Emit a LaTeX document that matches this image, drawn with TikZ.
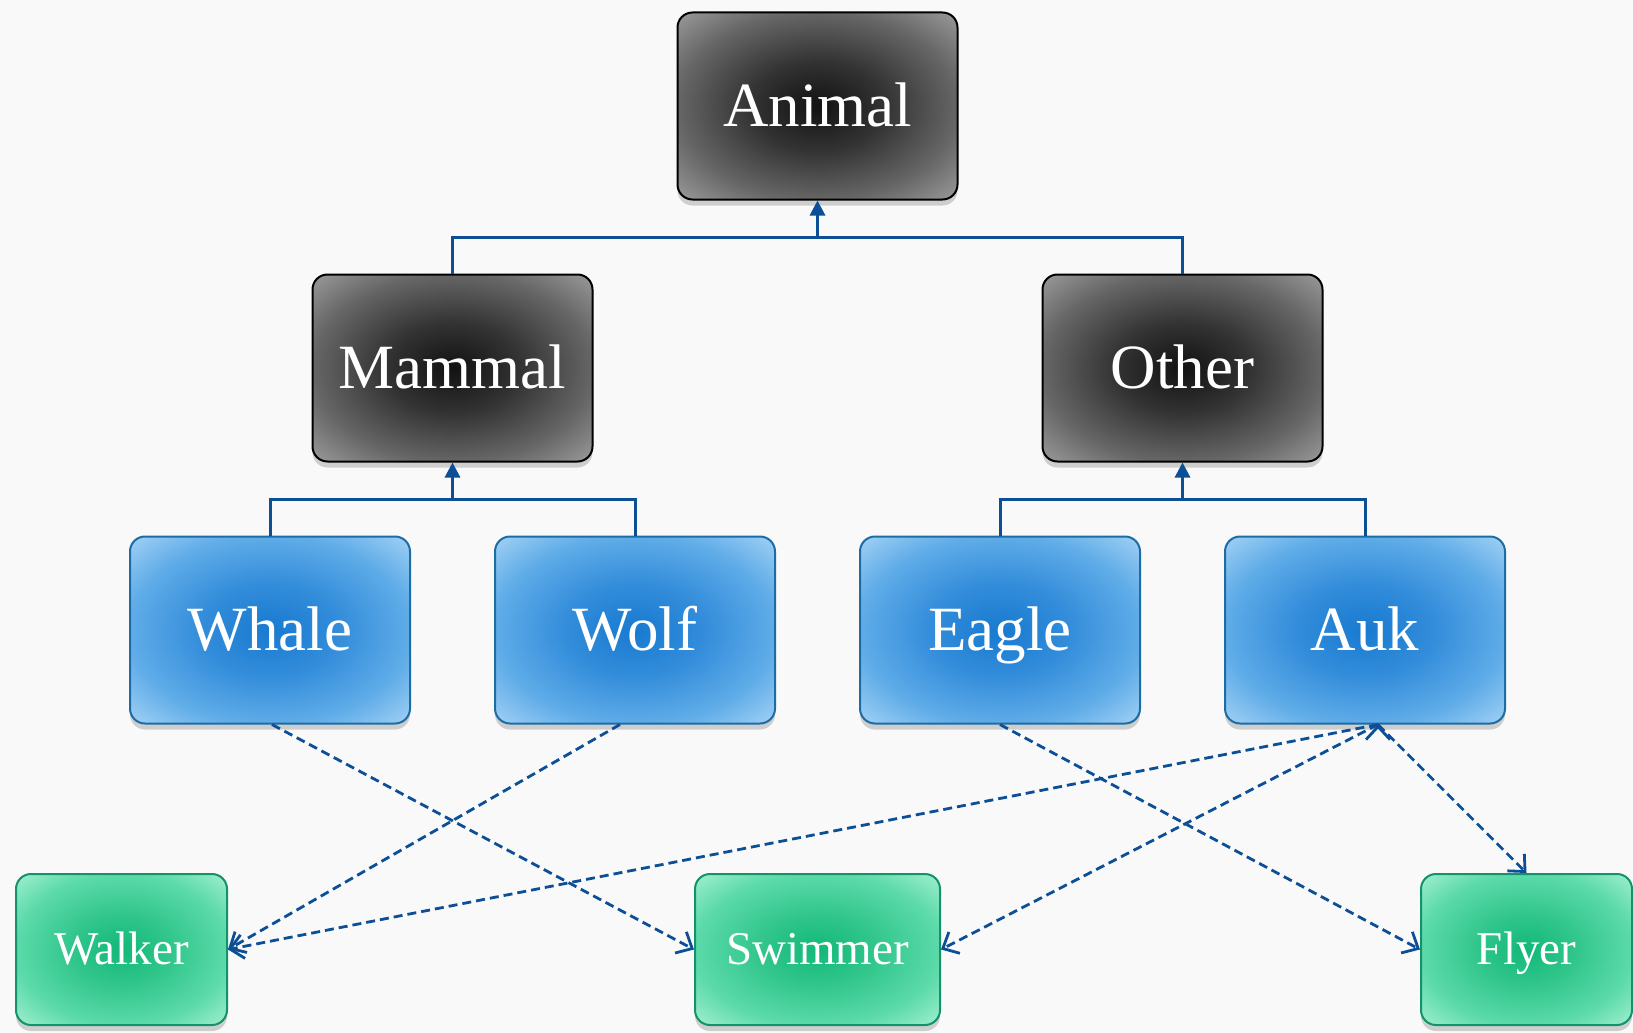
\documentclass[tikz,border=0pt]{standalone}
\usepackage{fontspec}
\setmainfont{Liberation Serif}
\usetikzlibrary{positioning,calc,shadows,arrows.meta}

\definecolor{paper}{HTML}{F9F9F9}
\definecolor{link}{HTML}{0C4F96}
\definecolor{blueline}{HTML}{1D6CA3}
\definecolor{greenline}{HTML}{14926A}
\pgfdeclareradialshading{darkshade}{\pgfpoint{0bp}{0bp}}{color(0bp)=(black!93); color(12bp)=(black!80); color(25bp)=(black!60); color(35bp)=(black!40); color(50bp)=(black!40)}
\pgfdeclareradialshading{blueshade}{\pgfpoint{0bp}{0bp}}{color(0bp)=(rgb,255:red,24;green,122;blue,208); color(12bp)=(rgb,255:red,50;green,140;blue,218); color(25bp)=(rgb,255:red,95;green,172;blue,232); color(35bp)=(rgb,255:red,160;green,208;blue,244); color(50bp)=(rgb,255:red,160;green,208;blue,244)}
\pgfdeclareradialshading{greenshade}{\pgfpoint{0bp}{0bp}}{color(0bp)=(rgb,255:red,18;green,184;blue,120); color(12bp)=(rgb,255:red,50;green,198;blue,140); color(25bp)=(rgb,255:red,92;green,218;blue,170); color(35bp)=(rgb,255:red,160;green,238;blue,206); color(50bp)=(rgb,255:red,160;green,238;blue,206)}

\begin{document}
\begin{tikzpicture}[x=1pt,y=1pt,node distance=73pt and 83pt,
	glow/.style={path picture={\shade[shading=#1] (path picture bounding box.south west) rectangle (path picture bounding box.north east);}},
	box/.style={rounded corners=15pt,line width=2pt,minimum width=280pt,minimum height=187pt,text=white,
		text height=41pt,text depth=0pt,font=\fontsize{63}{70}\selectfont,
		drop shadow={opacity=0.35,shadow xshift=0pt,shadow yshift=-6pt}},
	kind/.style={box,draw=black,glow=darkshade},
	animal/.style={box,draw=blueline,glow=blueshade},
	trait/.style={box,draw=greenline,glow=greenshade,minimum width=211pt,minimum height=151pt,
		text height=29pt,font=\fontsize{47}{54}\selectfont},
	tree/.style={draw=link,line width=3pt},
	uses/.style={draw=link,line width=2.8pt,dash pattern=on 9pt off 5pt,-{Straight Barb[length=13pt,width=24pt]}}]
	\useasboundingbox[fill=paper] (0,0) rectangle (1633,-1033);
	\node[animal] at (270,-630)     (whale) {Whale};
	\node[animal,right=of whale]    (wolf)  {Wolf};
	\node[animal,right=of wolf]     (eagle) {Eagle};
	\node[animal,right=of eagle]    (auk)   {Auk};
	\coordinate (mw) at ($(whale.north)!.5!(wolf.north)$);
	\coordinate (ea) at ($(eagle.north)!.5!(auk.north)$);
	\node[kind,above=of mw]         (mammal) {Mammal};
	\node[kind,above=of ea]         (other)  {Other};
	\coordinate (mo) at ($(mammal.north)!.5!(other.north)$);
	\node[kind,above=of mo]         (animalroot) {Animal};
	\node[trait,anchor=north west] at (15,-873)     (walker)  {Walker};
	\node[trait,anchor=north,minimum width=245pt,at=(animalroot|-walker.north)] (swimmer) {Swimmer};
	\node[trait,anchor=north east] at (1633,-873)   (flyer)   {Flyer};
	% joints of the class tree
	\coordinate[below=37pt of animalroot.south] (aj);
	\coordinate[below=37pt of mammal.south]     (mj);
	\coordinate[below=37pt of other.south]      (oj);
	\draw[tree] (mammal.north) |- (aj) -| (other.north);
	\draw[tree] (whale.north) |- (mj) -| (wolf.north);
	\draw[tree] (eagle.north) |- (oj) -| (auk.north);
	\foreach \j/\p in {aj/animalroot,mj/mammal,oj/other}
		\draw[tree,-{Triangle[width=15pt,length=15pt]}] (\j) -- (\p.south);
	\path[uses]
		([xshift=2pt]whale.south)  edge (swimmer.west)
		([xshift=-15pt]wolf.south) edge (walker.east)
		(eagle.south)              edge (flyer.west)
		([xshift=13pt]auk.south)   edge (walker.east)
		([xshift=13pt]auk.south)   edge (swimmer.east)
		([xshift=13pt]auk.south)   edge (flyer.north)
	; %-path-%
\end{tikzpicture}
\end{document}
